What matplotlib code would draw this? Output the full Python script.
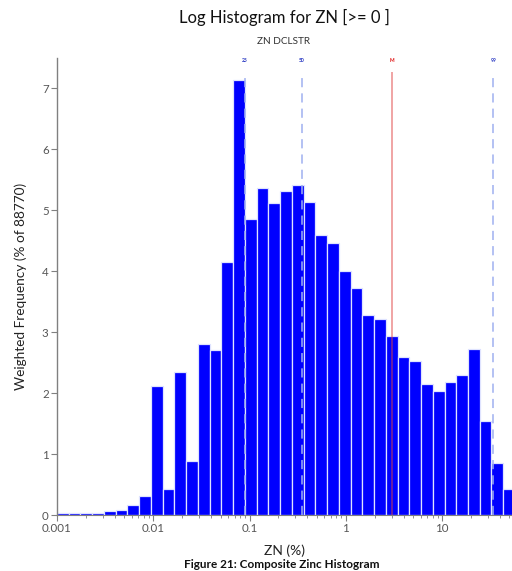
import numpy as np
import matplotlib
matplotlib.use("Agg")
import matplotlib.pyplot as plt
from matplotlib.ticker import LogLocator, NullFormatter, FixedLocator, FixedFormatter

plt.rcParams['font.family'] = ['Lato', 'DejaVu Sans']

# Histogram of ZN grades on log-spaced bins (weighted frequency, %)
log_start = -3.0          # first bin edge: 10^-3
log_width = 0.122         # bin width in decades
freq = [0.03, 0.03, 0.03, 0.03, 0.065, 0.09, 0.16, 0.31,
        2.11, 0.42, 2.34, 0.89, 2.81, 2.70, 4.15, 7.14,
        4.86, 5.37, 5.12, 5.31, 5.42, 5.14, 4.60, 4.46,
        4.00, 3.72, 3.29, 3.22, 2.94, 2.59, 2.52, 2.15,
        2.04, 2.18, 2.29, 2.73, 1.54, 0.85, 0.43]

# Percentile / mean markers
marker_labels = ["25", "50", "M", "99"]
marker_values = [0.0893, 0.3475, 3.03, 34.0]
marker_is_mean = [False, False, True, False]

x_ticks = [0.001, 0.01, 0.1, 1, 10]
x_tick_labels = ["0.001", "0.01", "0.1", "1", "10"]
y_ticks = [0, 1, 2, 3, 4, 5, 6, 7]

n = len(freq)
edges = 10 ** (log_start + log_width * np.arange(n + 1))
left = edges[:-1]
widths = np.diff(edges)

fig = plt.figure(figsize=(5.12, 5.71), dpi=100)
ax = fig.add_axes([57 / 512, 56 / 571, 455 / 512, 457 / 571])

ax.bar(left, freq, width=widths, align='edge', color='#0000ff',
       edgecolor='#dfe3ff', linewidth=0.9, zorder=2)

ax.set_xscale('log')
ax.set_xlim(0.001, 10 ** 1.727)
ax.set_ylim(0, 7.5)

line_top = 7.27
for lab, val, is_mean in zip(marker_labels, marker_values, marker_is_mean):
    if is_mean:
        ax.plot([val, val], [0, line_top], color='#e04040', lw=1.1,
                alpha=0.6, zorder=3, solid_capstyle='butt')
        tcol = '#e01010'
    else:
        ax.plot([val, val], [0, line_top], color='#9fb0f0', lw=1.1,
                ls=(0, (6, 4)), zorder=3)
        tcol = '#2030c0'
    ax.text(val, 7.46, lab, ha='center', va='center', fontsize=3.6,
            color=tcol, fontweight='bold')

ax.xaxis.set_major_locator(FixedLocator(x_ticks))
ax.xaxis.set_major_formatter(FixedFormatter(x_tick_labels))
ax.xaxis.set_minor_locator(LogLocator(base=10, subs=np.arange(2, 10)))
ax.xaxis.set_minor_formatter(NullFormatter())
ax.set_yticks(y_ticks)

for s in ['top', 'right']:
    ax.spines[s].set_visible(False)
ax.spines['left'].set_color('#808080')
ax.spines['bottom'].set_color('#808080')
ax.spines['left'].set_linewidth(1.0)
ax.spines['bottom'].set_linewidth(0.8)

ax.tick_params(axis='both', which='major', length=4, width=0.8,
               color='#808080', labelcolor='#555555', labelsize=8.3, pad=2)
ax.tick_params(axis='x', which='minor', length=2.5, width=0.6, color='#808080')

ax.set_xlabel('ZN (%)', fontsize=10, color='#222222', labelpad=7)
ax.set_ylabel('Weighted Frequency (% of 88770)', fontsize=9.8,
              color='#222222', labelpad=11)

fig.text(284 / 512, 1 - 17 / 571, 'Log Histogram for ZN [>= 0 ]',
         ha='center', va='center', fontsize=12, color='#111111')
fig.text(284 / 512, 1 - 41 / 571, 'ZN DCLSTR', ha='center', va='center',
         fontsize=7.2, color='#333333')
fig.text(282 / 512, 1 - 559 / 571, 'Figure 21: Composite Zinc Histogram',
         ha='center', va='top', fontsize=8.5, fontweight='bold',
         color='#111111')

fig.savefig('out.png', dpi=100)
